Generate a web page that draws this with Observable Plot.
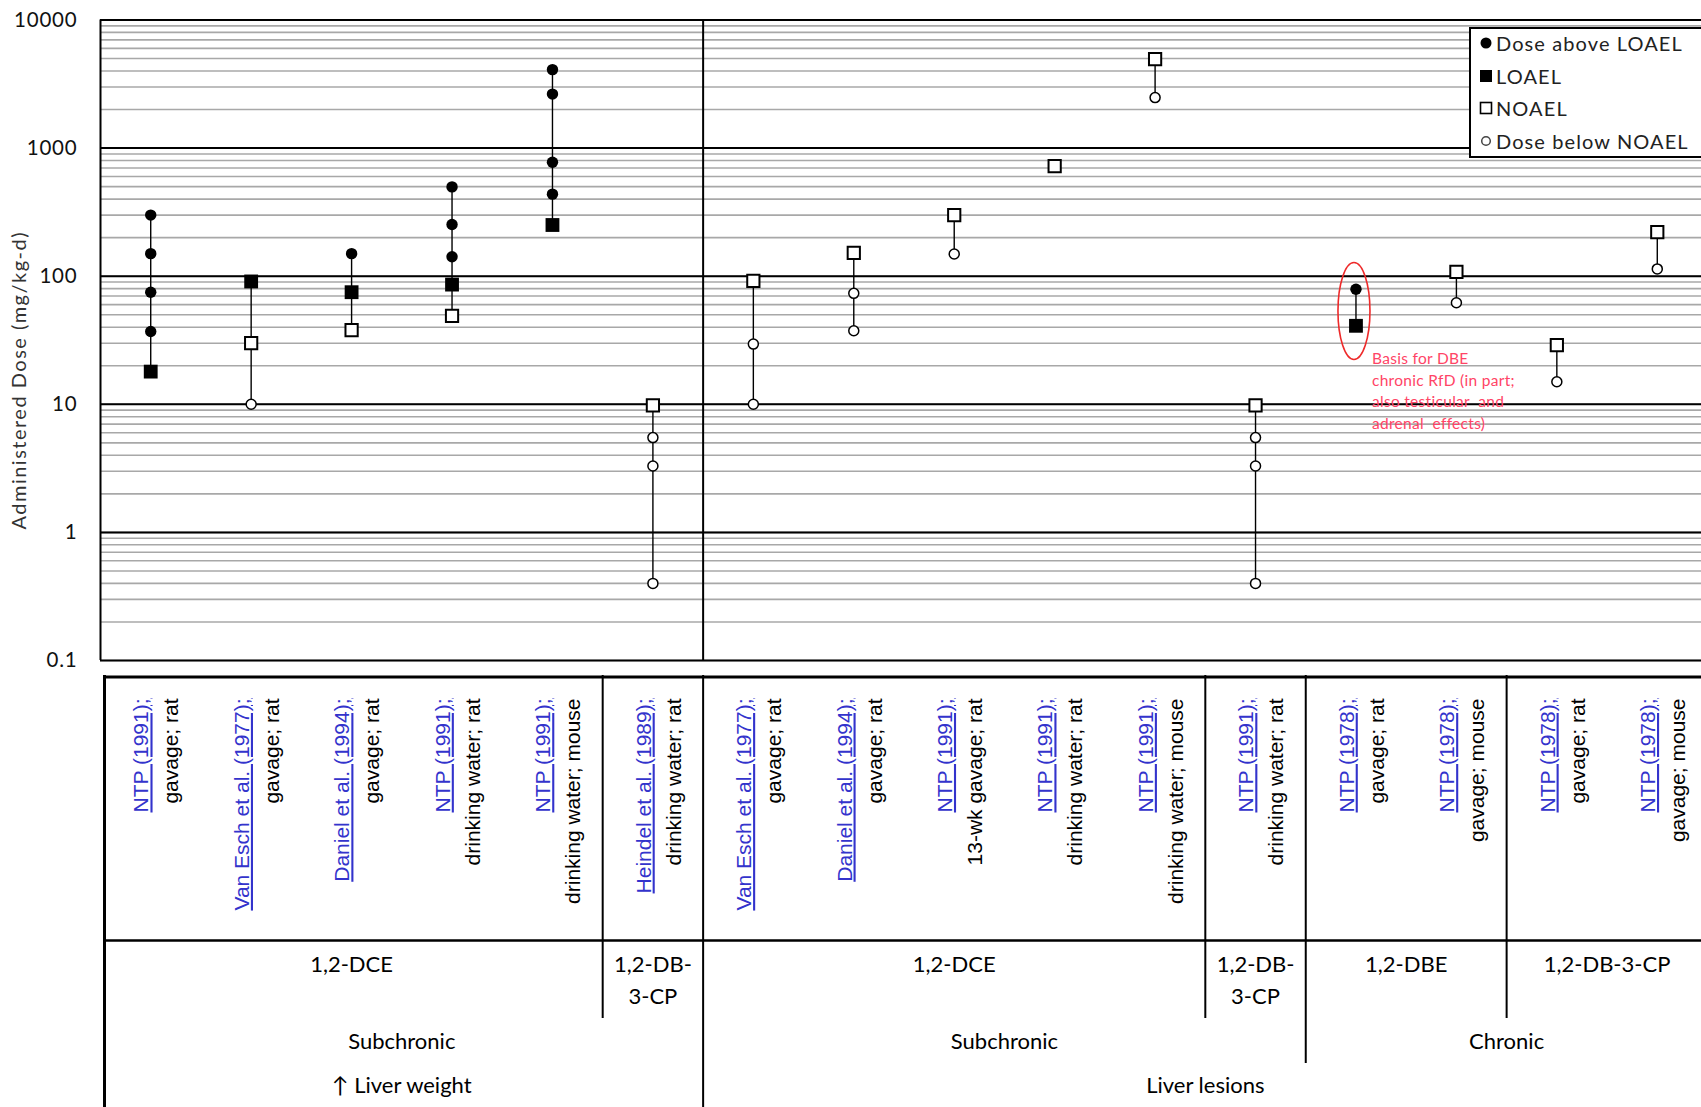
<!DOCTYPE html>
<html>
<head>
<meta charset="utf-8">
<script src="https://cdn.jsdelivr.net/npm/d3@7"></script>
<script src="https://cdn.jsdelivr.net/npm/@observablehq/plot@0.6"></script>
<style>
  html, body { margin: 0; padding: 0; background: #fff; overflow: hidden; }
  #wrap { position: relative; width: 1707px; }
  #wrap svg { display: block; }
  g[fill="#3333cc"] text { text-decoration: underline; }
  .ylab text { letter-spacing: 1.5px; }
  .yticks text { letter-spacing: 0.8px; }
  .note text { letter-spacing: 0.3px; }
  #legend { position: absolute; left: 1469px; top: 27px; width: 260px; height: 127px;
            border: 2px solid #000; background: #fff; font-family: Lato, sans-serif;
            font-size: 20px; color: #222; letter-spacing: 1.1px; }
  #legend .row { position: absolute; left: 0; height: 28px; display: flex; align-items: center; white-space: nowrap; }
  #legend svg { margin-left: 8px; margin-right: 3px; }
</style>
</head>
<body>
<div id="wrap"></div>
<script>
// ---------------- data ----------------
const studies = [
  "NTP (1991);", "Van Esch et al. (1977);", "Daniel et al. (1994);", "NTP (1991);", "NTP (1991);",
  "Heindel et al. (1989);",
  "Van Esch et al. (1977);", "Daniel et al. (1994);", "NTP (1991);", "NTP (1991);", "NTP (1991);",
  "NTP (1991);",
  "NTP (1978);", "NTP (1978);", "NTP (1978);", "NTP (1978);"
];
const routes = [
  "gavage; rat", "gavage; rat", "gavage; rat", "drinking water; rat", "drinking water; mouse",
  "drinking water; rat",
  "gavage; rat", "gavage; rat", "13-wk gavage; rat", "drinking water; rat", "drinking water; mouse",
  "drinking water; rat",
  "gavage; rat", "gavage; mouse", "gavage; rat", "gavage; mouse"
];
const chemicals = [
  "1,2-DCE", "1,2-DCE", "1,2-DCE", "1,2-DCE", "1,2-DCE", "1,2-DB-3-CP",
  "1,2-DCE", "1,2-DCE", "1,2-DCE", "1,2-DCE", "1,2-DCE", "1,2-DB-3-CP",
  "1,2-DBE", "1,2-DBE", "1,2-DB-3-CP", "1,2-DB-3-CP"
];
const durations = [
  "Subchronic", "Subchronic", "Subchronic", "Subchronic", "Subchronic", "Subchronic",
  "Subchronic", "Subchronic", "Subchronic", "Subchronic", "Subchronic", "Subchronic",
  "Chronic", "Chronic", "Chronic", "Chronic"
];
const effects = [
  "↑ Liver weight", "↑ Liver weight", "↑ Liver weight", "↑ Liver weight", "↑ Liver weight", "↑ Liver weight",
  "Liver lesions", "Liver lesions", "Liver lesions", "Liver lesions", "Liver lesions", "Liver lesions",
  "Liver lesions", "Liver lesions", "Liver lesions", "Liver lesions"
];
// doses (mg/kg-d) per study
const aboveLOAEL = [
  [37, 75, 150, 300], [], [150], [142, 253, 498], [437, 776, 2640, 4100], [],
  [], [], [], [], [], [],
  [79], [], [], []
];
const LOAEL = [18, 91, 75, 86, 251, null, null, null, null, null, null, null, 41, null, null, null];
const NOAEL = [null, 30, 38, 49, null, 9.8, 92, 152, 300, 724, 4950, 9.8, null, 108, 29, 221];
const belowNOAEL = [
  [], [10], [], [], [], [0.4, 3.3, 5.5],
  [10, 29.5], [37.5, 73.5], [149], [], [2480], [0.4, 3.3, 5.5],
  [], [62], [15], [114]
];
const yTicks = [0.1, 1, 10, 100, 1000, 10000];
const yTickLabels = ["0.1", "1", "10", "100", "1000", "10000"];
const yLabel = "Administered Dose (mg/kg-d)";
const legendLabels = ["Dose above LOAEL", "LOAEL", "NOAEL", "Dose below NOAEL"];
const noteStudy = 12;
const noteText = "Basis for DBE\nchronic RfD (in part;\nalso testicular  and\nadrenal  effects)";

// ---------------- derived tables ----------------
const n = studies.length;
const points = [];
studies.forEach((s, i) => {
  aboveLOAEL[i].forEach(v => points.push({col: i, dose: v, kind: "above"}));
  if (LOAEL[i] != null) points.push({col: i, dose: LOAEL[i], kind: "LOAEL"});
  if (NOAEL[i] != null) points.push({col: i, dose: NOAEL[i], kind: "NOAEL"});
  belowNOAEL[i].forEach(v => points.push({col: i, dose: v, kind: "below"}));
});
const ranges = studies.map((s, i) => {
  const d = points.filter(p => p.col === i).map(p => p.dose);
  return {col: i, lo: d3.min(d), hi: d3.max(d)};
}).filter(r => r.lo < r.hi);
const xc = d => d.col + 0.5;

const noteDoses = [LOAEL[noteStudy], ...aboveLOAEL[noteStudy]];
const noteAnchor = {col: noteStudy, dose: Math.sqrt(d3.min(noteDoses) * d3.max(noteDoses))};
const noteTextAnchor = {col: noteStudy, dose: LOAEL[noteStudy]};

// ellipse symbol for the highlight
const ellipse = {
  draw(ctx, size) {
    const r = Math.sqrt(size / Math.PI), ry = r, rx = r * 0.33, k = 0.5523;
    ctx.moveTo(rx, 0);
    ctx.bezierCurveTo(rx, ry * k, rx * k, ry, 0, ry);
    ctx.bezierCurveTo(-rx * k, ry, -rx, ry * k, -rx, 0);
    ctx.bezierCurveTo(-rx, -ry * k, -rx * k, -ry, 0, -ry);
    ctx.bezierCurveTo(rx * k, -ry, rx, -ry * k, rx, 0);
    ctx.closePath();
  }
};

// boundaries between table groups
const boundaries = [];
for (let i = 1; i < n; i++) {
  const eff = effects[i] !== effects[i - 1];
  const dur = eff || durations[i] !== durations[i - 1];
  const chem = dur || chemicals[i] !== chemicals[i - 1];
  if (chem) boundaries.push({pos: i, level: eff ? "effect" : dur ? "duration" : "chemical"});
}
function runs(keyFn, labelFn) {
  const out = []; let start = 0;
  for (let i = 1; i <= n; i++) {
    if (i === n || keyFn(i) !== keyFn(start)) { out.push({start, end: i, label: labelFn(start, i)}); start = i; }
  }
  return out;
}
const chemRuns = runs(i => effects[i] + durations[i] + chemicals[i],
  (s, e) => (e - s === 1 ? chemicals[s].replace("DB-", "DB-\n") : chemicals[s]));
const durRuns = runs(i => effects[i] + durations[i], (s) => durations[s]);
const effRuns = runs(i => effects[i], (s) => effects[s]);

// ---------------- chart ----------------
const W = 1707;
const bodyFont = "Lato, 'Open Sans', sans-serif";
const effectBoundary = boundaries.filter(b => b.level === "effect").map(b => b.pos);

const chart = Plot.plot({
  width: W, height: 675,
  marginLeft: 100, marginRight: 0, marginTop: 19.5, marginBottom: 15,
  x: {domain: [0, n], axis: null},
  y: {type: "log", domain: [0.1, 10000], axis: null},
  style: {background: "white", overflow: "visible"},
  marks: [
    Plot.gridY({ticks: 20, stroke: "#a8a8a8", strokeOpacity: 1, strokeWidth: 1.6}),
    Plot.ruleY(yTicks, {stroke: "#000", strokeWidth: 2}),
    Plot.ruleX([0, ...effectBoundary], {stroke: "#000", strokeWidth: 2}),
    Plot.text(yTicks, {y: d => d, text: d => yTickLabels[yTicks.indexOf(d)], frameAnchor: "left",
      textAnchor: "end", dx: -23, fontSize: 20.5, fontFamily: bodyFont, fill: "#111", className: "yticks"}),
    Plot.text([yLabel], {frameAnchor: "left", textAnchor: "middle", dx: -81, dy: 40, rotate: -90, fontSize: 20,
      fontFamily: bodyFont, fill: "#333", className: "ylab"}),
    Plot.ruleX(ranges, {x: xc, y1: "lo", y2: "hi", stroke: "#000", strokeWidth: 1.4}),
    Plot.dot(points.filter(p => p.kind === "above"), {x: xc, y: "dose", r: 5.7, fill: "#000", stroke: "none"}),
    Plot.dot(points.filter(p => p.kind === "LOAEL"), {x: xc, y: "dose", symbol: "square", r: 7.8, fill: "#000", stroke: "none"}),
    Plot.dot(points.filter(p => p.kind === "NOAEL"), {x: xc, y: "dose", symbol: "square", r: 6.9, fill: "#fff", stroke: "#000", strokeWidth: 2}),
    Plot.dot(points.filter(p => p.kind === "below"), {x: xc, y: "dose", r: 5, fill: "#fff", stroke: "#000", strokeWidth: 1.5}),
    Plot.dot([noteAnchor], {x: xc, y: "dose", symbol: ellipse, r: 48.5, dx: -2, dy: 3.5, fill: "none", stroke: "#ee2a2a", strokeWidth: 1.6}),
    Plot.text([noteTextAnchor], {x: xc, y: "dose", text: () => noteText, textAnchor: "start", lineAnchor: "top",
      dx: 16, dy: 23, fontSize: 15.5, lineHeight: 1.39, fontFamily: bodyFont, fill: "#ff4466", className: "note"})
  ]
});

// ---------------- table ----------------
const T = 432;
const L = {top: 1.5, studyText: 23, divider: 265, chemText: 273, chemBottom: 343, durText: 366.5,
           durBottom: 388, effText: 410};
const levelBottom = {chemical: L.chemBottom, duration: L.durBottom, effect: T};
const studyFont = "'Liberation Sans', Arial, sans-serif";

const table = Plot.plot({
  width: W, height: T,
  marginLeft: 100, marginRight: 0, marginTop: 0, marginBottom: 0,
  x: {domain: [0, n], axis: null},
  y: {domain: [0, T], range: [0, T], axis: null},
  style: {background: "white", overflow: "visible"},
  marks: [
    Plot.ruleY([L.top], {x1: 0, x2: n, dx: 3, stroke: "#000", strokeWidth: 3}),
    Plot.ruleY([L.divider], {x1: 0, x2: n, dx: 3, stroke: "#000", strokeWidth: 2.5}),
    Plot.ruleX([0], {y1: 0, y2: T, dx: 4, stroke: "#000", strokeWidth: 3}),
    Plot.ruleX(boundaries, {x: "pos", y1: 0, y2: d => levelBottom[d.level], stroke: "#000", strokeWidth: 2}),
    Plot.text(studies, {x: (d, i) => i + 0.5, y: L.studyText, rotate: -90, textAnchor: "end",
      dx: -9, fontSize: 21, fontFamily: studyFont, fill: "#3333cc"}),
    Plot.text(routes, {x: (d, i) => i + 0.5, y: L.studyText, rotate: -90, textAnchor: "end",
      dx: 21, fontSize: 21, fontFamily: studyFont, fill: "#000"}),
    Plot.text(chemRuns, {x: d => (d.start + d.end) / 2, y: L.chemText, text: "label", lineAnchor: "top",
      lineHeight: 1.48, fontSize: 22, fontFamily: bodyFont, fill: "#000"}),
    Plot.text(durRuns, {x: d => (d.start + d.end) / 2, y: L.durText, text: "label",
      fontSize: 22, fontFamily: bodyFont, fill: "#000"}),
    Plot.text(effRuns, {x: d => (d.start + d.end) / 2, y: L.effText, text: "label",
      fontSize: 22, fontFamily: bodyFont, fill: "#000"})
  ]
});

const wrap = document.getElementById("wrap");
wrap.appendChild(chart);
wrap.appendChild(table);

// ---------------- legend ----------------
const legend = document.createElement("div");
legend.id = "legend";
const markers = [
  '<circle cx="7" cy="7" r="5.5" fill="#000"/>',
  '<rect x="1" y="1" width="12" height="12" fill="#000"/>',
  '<rect x="1.5" y="1.5" width="11" height="11" fill="#fff" stroke="#000" stroke-width="1.6"/>',
  '<circle cx="7" cy="7" r="4.3" fill="#fff" stroke="#444" stroke-width="1.5"/>'
];
legendLabels.forEach((lab, i) => {
  const row = document.createElement("div");
  row.className = "row";
  row.style.top = (0 + i * 32.7) + "px";
  row.innerHTML = `<svg width="14" height="14">${markers[i]}</svg><span>${lab}</span>`;
  legend.appendChild(row);
});
wrap.appendChild(legend);
</script>
</body>
</html>
